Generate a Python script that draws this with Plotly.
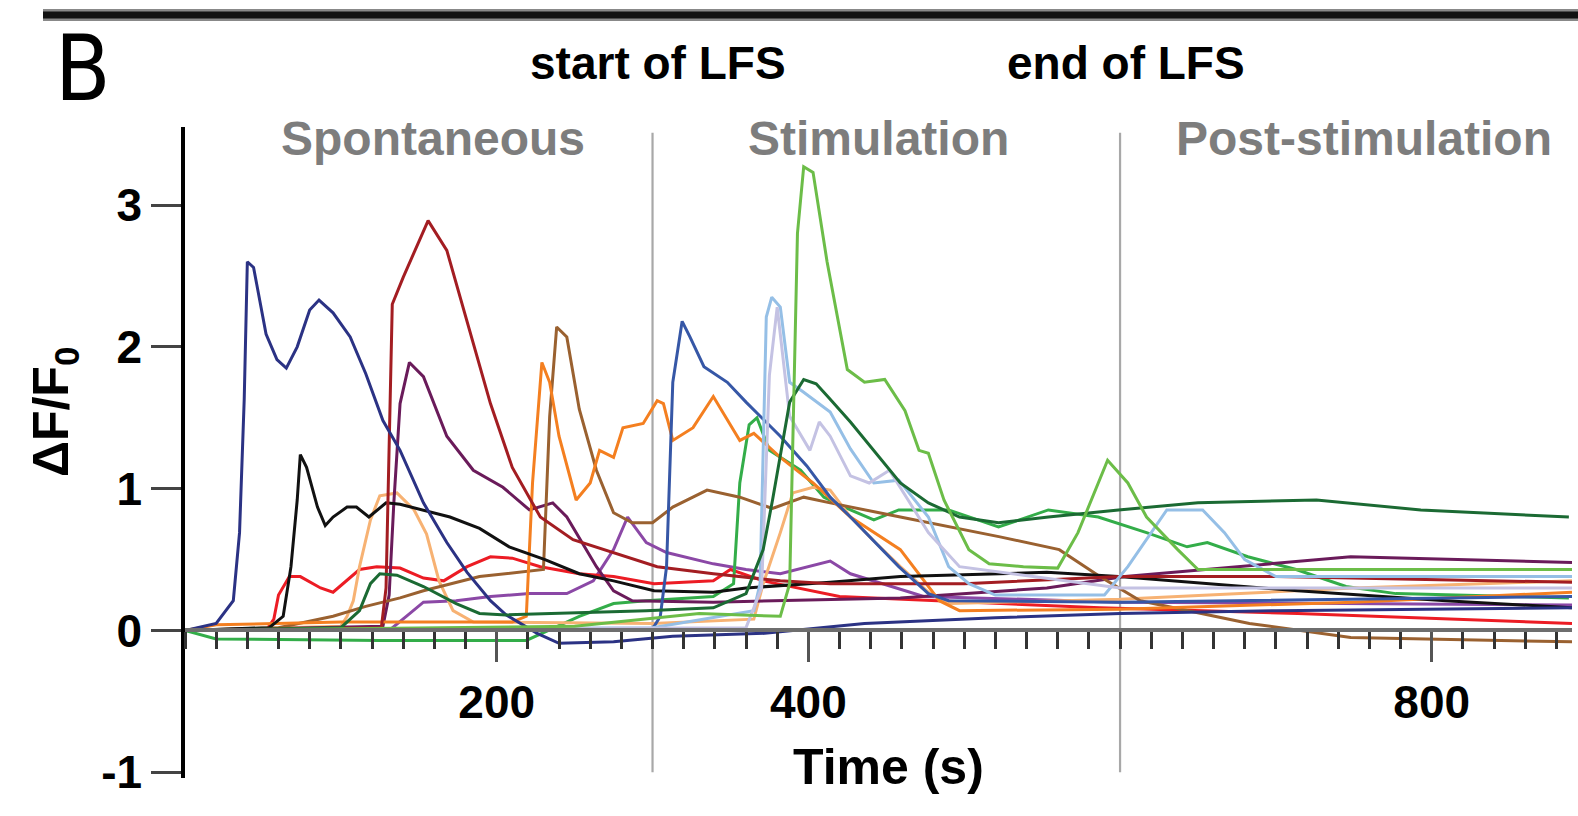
import plotly.graph_objects as go

# ---------------- data ----------------
t_navy = [0, 20, 31, 35, 38, 40, 44, 52, 59, 65, 72, 80, 86, 95, 106, 116, 127, 138, 153, 168, 181, 196, 206, 215, 226, 240, 275, 313, 372, 436, 520, 600, 700, 890]
v_navy = [0, 0.05, 0.21, 0.69, 1.63, 2.6, 2.56, 2.09, 1.91, 1.85, 2.0, 2.26, 2.33, 2.24, 2.07, 1.81, 1.48, 1.27, 0.9, 0.62, 0.41, 0.21, 0.11, 0.05, -0.02, -0.09, -0.08, -0.04, -0.02, 0.05, 0.09, 0.12, 0.14, 0.16]

t_black = [0, 54, 63, 68, 72, 74, 78, 85, 90, 95, 104, 110, 118, 129, 138, 153, 170, 189, 208, 231, 253, 275, 301, 339, 360, 414, 459, 553, 599, 714, 809, 890]
v_black = [0, 0.02, 0.1, 0.45, 0.92, 1.24, 1.15, 0.87, 0.74, 0.8, 0.87, 0.87, 0.8, 0.9, 0.89, 0.85, 0.8, 0.72, 0.59, 0.5, 0.4, 0.35, 0.28, 0.27, 0.3, 0.34, 0.38, 0.41, 0.38, 0.28, 0.21, 0.16]

t_dred = [0, 126, 129, 131, 133, 140, 156, 168, 181, 196, 210, 228, 249, 275, 303, 339, 382, 414, 500, 600, 700, 890]
v_dred = [0, 0.02, 0.3, 1.39, 2.3, 2.49, 2.89, 2.68, 2.17, 1.6, 1.15, 0.8, 0.64, 0.55, 0.45, 0.4, 0.35, 0.33, 0.33, 0.38, 0.38, 0.34]

t_maroon = [0, 127, 131, 134, 138, 144, 153, 168, 185, 204, 221, 236, 245, 264, 275, 287, 339, 459, 553, 603, 748, 890]
v_maroon = [0, 0.03, 0.25, 0.9, 1.6, 1.89, 1.79, 1.37, 1.13, 1.01, 0.85, 0.9, 0.8, 0.45, 0.28, 0.21, 0.2, 0.23, 0.3, 0.38, 0.52, 0.48]

t_peach = [0, 100, 104, 108, 112, 119, 125, 136, 147, 155, 163, 172, 185, 300, 365, 371, 382, 390, 403, 414, 427, 443, 459, 478, 491, 600, 750, 890]
v_peach = [0, 0.03, 0.1, 0.21, 0.45, 0.78, 0.95, 0.97, 0.85, 0.68, 0.35, 0.14, 0.06, 0.05, 0.08, 0.33, 0.69, 0.97, 1.01, 0.99, 0.80, 0.62, 0.45, 0.26, 0.19, 0.22, 0.3, 0.35]

t_orange = [0, 20, 100, 210, 219, 223, 229, 234, 240, 251, 260, 266, 275, 281, 294, 303, 307, 313, 326, 339, 356, 365, 382, 403, 427, 459, 484, 497, 600, 750, 890]
v_orange = [0, 0.04, 0.06, 0.06, 0.1, 1.04, 1.89, 1.75, 1.37, 0.92, 1.04, 1.27, 1.22, 1.43, 1.46, 1.62, 1.6, 1.34, 1.43, 1.65, 1.34, 1.39, 1.22, 1.04, 0.80, 0.57, 0.21, 0.14, 0.15, 0.2, 0.27]

t_brown = [0, 60, 95, 116, 138, 153, 189, 230, 234, 238.5, 245, 253, 264, 275, 287, 300, 313, 335, 356, 377, 397, 414, 459, 523, 561, 587, 613, 683, 748, 890]
v_brown = [0, 0.02, 0.1, 0.17, 0.23, 0.28, 0.38, 0.43, 1.51, 2.14, 2.07, 1.56, 1.13, 0.83, 0.76, 0.76, 0.87, 0.99, 0.94, 0.86, 0.94, 0.9, 0.80, 0.66, 0.57, 0.38, 0.21, 0.05, -0.05, -0.08]

t_violet = [0, 131, 142, 153, 174, 196, 221, 245, 262, 275, 284, 296, 309, 339, 360, 382, 414, 427, 474, 600, 890]
v_violet = [0, 0.0, 0.1, 0.2, 0.21, 0.24, 0.26, 0.26, 0.35, 0.57, 0.8, 0.62, 0.55, 0.47, 0.43, 0.40, 0.49, 0.4, 0.24, 0.2, 0.18]

t_red = [0, 52, 57, 60, 67, 74, 87, 95, 112, 123, 138, 153, 166, 181, 196, 210, 228, 253, 275, 301, 339, 350, 371, 420, 587, 714, 890]
v_red = [0, 0.0, 0.08, 0.25, 0.38, 0.38, 0.30, 0.27, 0.43, 0.45, 0.44, 0.37, 0.35, 0.45, 0.52, 0.51, 0.45, 0.40, 0.38, 0.33, 0.35, 0.43, 0.35, 0.24, 0.16, 0.12, 0.05]

t_dgreen = [0, 100, 112, 119, 125, 136, 153, 174, 189, 206, 296, 339, 360, 371, 377, 388, 397, 405, 414, 427, 459, 477, 497, 522, 554, 599, 650, 726, 793, 888]
v_dgreen = [0, 0.02, 0.14, 0.33, 0.4, 0.39, 0.31, 0.19, 0.12, 0.11, 0.14, 0.16, 0.26, 0.57, 0.92, 1.61, 1.77, 1.74, 1.63, 1.47, 1.04, 0.9, 0.8, 0.76, 0.8, 0.85, 0.9, 0.92, 0.85, 0.80]

t_lgreen = [0, 250, 330, 382, 388, 391, 393, 397, 403, 412, 425, 436, 449, 462, 471, 477, 487, 503, 516, 538, 560, 573, 586, 592, 605, 617, 637, 650, 890]
v_lgreen = [0, 0.03, 0.12, 0.1, 0.33, 1.75, 2.8, 3.27, 3.23, 2.6, 1.84, 1.75, 1.77, 1.55, 1.27, 1.25, 0.92, 0.57, 0.47, 0.45, 0.44, 0.69, 1.04, 1.2, 1.04, 0.8, 0.57, 0.43, 0.43]

t_mgreen = [0, 20, 125, 219, 253, 275, 296, 339, 352, 356, 362, 367, 375, 395, 410, 427, 442, 458, 490, 522, 554, 586, 617, 643, 656, 682, 713, 745, 777, 888]
v_mgreen = [0, -0.06, -0.07, -0.07, 0.1, 0.19, 0.21, 0.24, 0.33, 1.04, 1.45, 1.5, 1.27, 1.13, 0.94, 0.85, 0.78, 0.85, 0.85, 0.73, 0.85, 0.8, 0.69, 0.59, 0.62, 0.52, 0.43, 0.31, 0.26, 0.23]

t_lblue = [0, 300, 365, 369, 373, 376.5, 382, 388, 397, 414, 427, 442, 458, 477, 490, 503, 520, 590, 605, 630, 653, 667, 680, 700, 890]
v_lblue = [0, 0.02, 0.14, 0.33, 2.21, 2.35, 2.28, 1.75, 1.68, 1.54, 1.28, 1.04, 1.06, 0.8, 0.45, 0.33, 0.25, 0.25, 0.45, 0.85, 0.85, 0.69, 0.5, 0.38, 0.38]

t_lav = [0, 360, 370, 375, 380, 388, 401, 407, 414, 427, 439, 452, 464, 477, 497, 600, 890]
v_lav = [0, 0.02, 0.3, 1.8, 2.28, 1.51, 1.27, 1.47, 1.37, 1.09, 1.04, 1.13, 0.92, 0.69, 0.45, 0.3, 0.3]

t_blue = [0, 300, 305, 309, 313, 319, 324, 333, 348, 360, 382, 399, 414, 427, 458, 477, 490, 600, 890]
v_blue = [0.0, 0.01, 0.1, 0.45, 1.75, 2.18, 2.07, 1.86, 1.75, 1.61, 1.37, 1.16, 0.94, 0.8, 0.45, 0.26, 0.21, 0.2, 0.24]

x_tickvals = [200, 400, 800]
y_tickvals = [-1, 0, 1, 2, 3]
lfs_start = 300
lfs_end = 600
phase_labels = ["Spontaneous", "Stimulation", "Post-stimulation"]

series = [
    ("violet", t_violet, v_violet, "#8b48a6"),
    ("red", t_red, v_red, "#ec1c24"),
    ("medium green", t_mgreen, v_mgreen, "#33ad49"),
    ("peach", t_peach, v_peach, "#f7b273"),
    ("maroon", t_maroon, v_maroon, "#6a1b5a"),
    ("brown", t_brown, v_brown, "#9a6130"),
    ("orange", t_orange, v_orange, "#f47f20"),
    ("black", t_black, v_black, "#111111"),
    ("dark red", t_dred, v_dred, "#a31d22"),
    ("navy", t_navy, v_navy, "#2b3284"),
    ("blue", t_blue, v_blue, "#3657a6"),
    ("light blue", t_lblue, v_lblue, "#95bfe6"),
    ("lavender", t_lav, v_lav, "#c4c2e3"),
    ("dark green", t_dgreen, v_dgreen, "#1b6a33"),
    ("light green", t_lgreen, v_lgreen, "#6cbd48"),
]

# ---------------- layout geometry ----------------
W, H = 1578, 816
ML, MR, MT, MB = 185, 6, 127, 38
PW, PH = W - ML - MR, H - MT - MB
Y0, Y1 = -1.04, 3.55


def px(xp):
    return (xp - ML) / PW


def py(yp):
    return (H - MB - yp) / PH


fig = go.Figure()
for name, t, v, c in series:
    fig.add_trace(go.Scatter(x=t, y=v, mode="lines", name=name,
                             line=dict(color=c, width=3), showlegend=False))

FONT = "Liberation Sans, Arial, sans-serif"

fig.update_layout(
    width=W, height=H,
    margin=dict(l=ML, r=MR, t=MT, b=MB, pad=0),
    paper_bgcolor="white", plot_bgcolor="white",
    font=dict(family=FONT, color="black"),
    xaxis=dict(
        range=[0, 890], anchor="free", position=(0 - Y0) / (Y1 - Y0),
        showgrid=False, zeroline=False,
        showline=True, linecolor="#6e6e6e", linewidth=4,
        tickmode="array", tickvals=x_tickvals, ticktext=[str(v) for v in x_tickvals],
        ticks="outside", ticklen=30, tickwidth=3, tickcolor="#555555",
        tickfont=dict(size=46, family=FONT, weight="bold", color="black"),
        minor=dict(tickmode="linear", tick0=0, dtick=20, ticks="outside",
                   ticklen=17, tickwidth=3, tickcolor="#333333", showgrid=False),
    ),
    yaxis=dict(
        range=[Y0, Y1], showgrid=False, zeroline=False,
        showline=True, linecolor="black", linewidth=3.5,
        tickmode="array", tickvals=y_tickvals, ticktext=["-1", "0", "1", "2", "3"],
        ticks="outside", ticklen=30, tickwidth=3, tickcolor="#444444",
        tickfont=dict(size=46, family=FONT, weight="bold", color="black"),
    ),
)

# vertical phase lines
for xv in (lfs_start, lfs_end):
    fig.add_shape(type="line", xref="x", yref="y", x0=xv, x1=xv, y0=-1, y1=3.51,
                  line=dict(color="#a8a8a8", width=2.2), layer="below")

# top rule
fig.add_shape(type="line", xref="paper", yref="paper", x0=px(43), x1=px(1578),
              y0=py(15), y1=py(15), line=dict(color="#888888", width=12))
fig.add_shape(type="line", xref="paper", yref="paper", x0=px(43), x1=px(1578),
              y0=py(15), y1=py(15), line=dict(color="#111111", width=7))


def ann(text, xp, yp, size, color="black", bold=True, angle=0, family=FONT):
    fig.add_annotation(text=text, xref="paper", yref="paper", x=px(xp), y=py(yp),
                       xanchor="center", yanchor="middle", showarrow=False,
                       textangle=angle,
                       font=dict(size=size, color=color, family=family,
                                 weight="bold" if bold else "normal"))


ann("B", 83, 68, 90, bold=False, family="DejaVu Sans Condensed, Liberation Sans Narrow, Liberation Sans, Arial")
ann("start of LFS", 658, 63, 46)
ann("end of LFS", 1126, 63, 46)
for lab, xc in zip(phase_labels, (433, 878, 1364)):
    ann(lab, xc, 138, 48, color="#7d7d7d")
ann("ΔF/F<sub>0</sub>", 54, 412, 50, angle=-90)
ann("Time (s)", 888, 767, 50)

fig.write_html("out.html", config={"displayModeBar": False})
